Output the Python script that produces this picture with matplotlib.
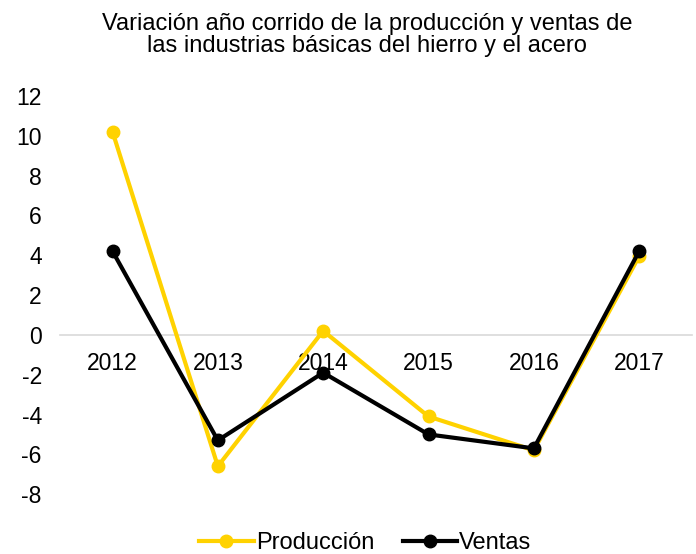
import matplotlib.pyplot as plt

plt.rcParams['font.family'] = ['Liberation Sans', 'DejaVu Sans']
plt.rcParams['axes.unicode_minus'] = False

years = ['2012', '2013', '2014', '2015', '2016', '2017']
produccion = [10.2, -6.6, 0.2, -4.1, -5.8, 3.95]
ventas = [4.2, -5.3, -1.9, -5.0, -5.7, 4.2]

fig = plt.figure(figsize=(6.96, 5.54), dpi=100)
ax = fig.add_axes([0.086, 0.108, 0.908, 0.719])

x = range(len(years))
ax.plot(x, produccion, color='#FFD200', lw=3, marker='o', ms=9, label='Producción', zorder=5, clip_on=False)
ax.plot(x, ventas, color='black', lw=3, marker='o', ms=9, label='Ventas', zorder=6, clip_on=False)

ax.set_xlim(-0.5, 5.5)
ax.set_ylim(-8, 12)
ax.set_yticks(range(-8, 13, 2))
ax.set_xticks(list(x))
ax.set_xticklabels(years)

for s in ['top', 'right', 'left']:
    ax.spines[s].set_visible(False)
ax.spines['bottom'].set_position(('data', 0))
ax.spines['bottom'].set_color('#d9d9d9')
ax.spines['bottom'].set_linewidth(1.2)
ax.tick_params(axis='x', length=0, pad=12, labelsize=16.5)
ax.tick_params(axis='y', length=0, pad=13, labelsize=16.5)

fig.text(0.527, 0.9375, 'Variación año corrido de la producción y ventas de\nlas industrias básicas del hierro y el acero',
         ha='center', va='center', fontsize=17, linespacing=1.0)

leg = fig.legend(loc='center', bbox_to_anchor=(0.525, 0.02), ncol=2, frameon=False, fontsize=17,
                 handlelength=2.3, handletextpad=0.1, columnspacing=1.2, borderpad=0)

fig.savefig('out.png', dpi=100)
